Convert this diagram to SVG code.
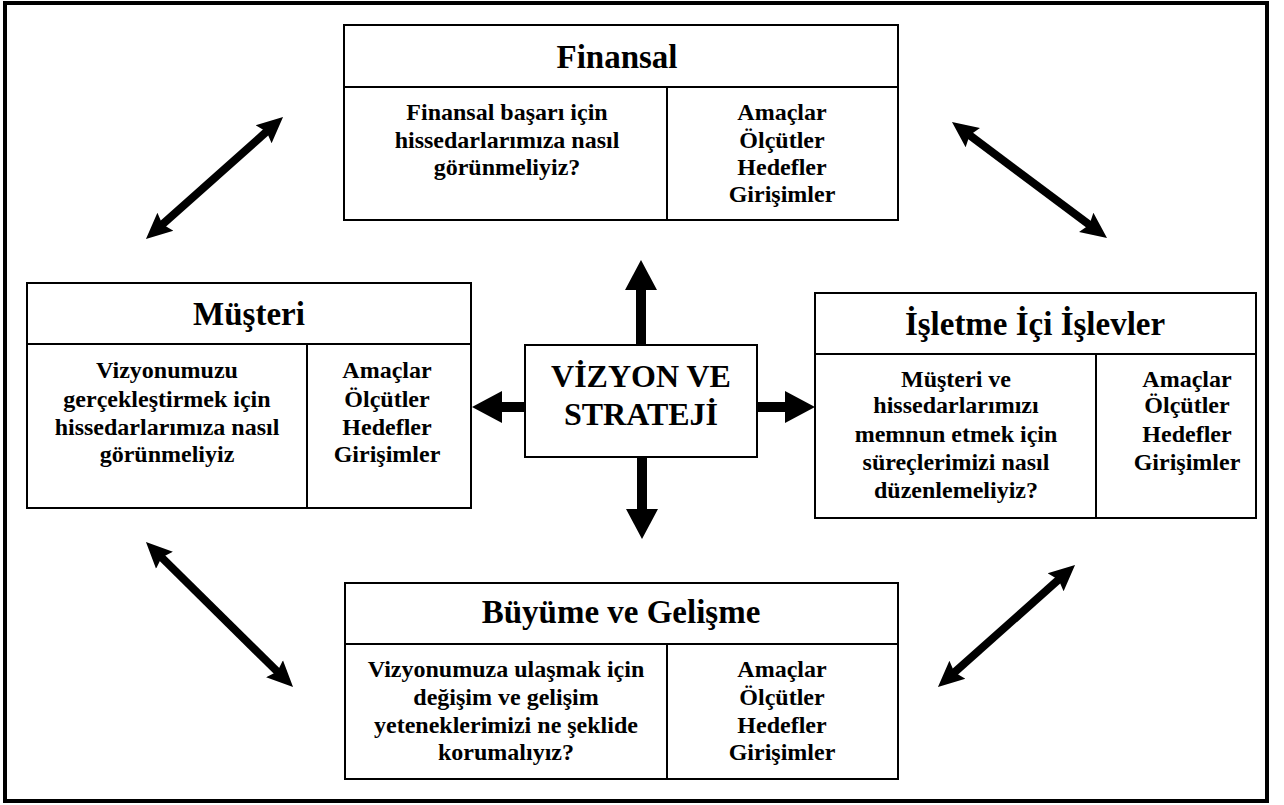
<svg xmlns="http://www.w3.org/2000/svg" width="1284" height="805" viewBox="0 0 1284 805">
  <style>
    .frame { fill: #fff; stroke: #000; stroke-width: 4; }
    .box { fill: #fff; stroke: #000; stroke-width: 2; }
    .rule { stroke: #000; stroke-width: 2; }
    text { font-family: "Liberation Serif", "Times New Roman", serif; font-weight: bold; fill: #000; text-anchor: middle; }
    .head { font-size: 33px; }
    .body { font-size: 24px; }
    .core { font-size: 32px; }
    .dbl { stroke: #000; stroke-width: 8; fill: none; marker-start: url(#tipSmall); marker-end: url(#tipSmall); }
    .out { stroke: #000; stroke-width: 10; fill: none; marker-end: url(#tipBig); }
  </style>
  <defs>
    <!-- notched head; the shaft ends 6px inside it so the notch is covered -->
    <marker id="tipSmall" markerUnits="userSpaceOnUse" viewBox="0 -15 30 30" refX="6" refY="0" markerWidth="30" markerHeight="30" orient="auto-start-reverse">
      <path d="M0,-12 L26,0 L0,12 L4,0 z" fill="#000"/>
    </marker>
    <marker id="tipBig" markerUnits="userSpaceOnUse" viewBox="0 -18 32 36" refX="0" refY="0" markerWidth="32" markerHeight="36" orient="auto">
      <path d="M0,-16 L30,0 L0,16 z" fill="#000"/>
    </marker>
  </defs>

  <!-- outer frame -->
  <rect class="frame" x="5" y="3" width="1262" height="798"/>

  <!-- connectors -->
  <g id="connectors">
    <line class="dbl" x1="160.9" y1="225.7" x2="268.1" y2="130.3"/>
    <line class="dbl" x1="968.0" y1="134.0" x2="1091.0" y2="226.0"/>
    <line class="dbl" x1="952.9" y1="673.7" x2="1060.1" y2="578.3"/>
    <line class="dbl" x1="160.2" y1="556.0" x2="278.8" y2="673.0"/>
    <line class="out" x1="641" y1="345" x2="641" y2="290"/>
    <line class="out" x1="642" y1="457" x2="642" y2="509"/>
    <line class="out" x1="525" y1="407" x2="502" y2="407"/>
    <line class="out" x1="757" y1="407" x2="785" y2="407"/>
  </g>

  <!-- Finansal -->
  <g id="finansal">
    <rect class="box" x="344" y="25" width="554" height="195"/>
    <line class="rule" x1="344" y1="87" x2="898" y2="87"/>
    <line class="rule" x1="667" y1="87" x2="667" y2="220"/>
    <text class="head" x="617" y="68">Finansal</text>
    <text class="body" x="507" y="120">Finansal başarı için</text>
    <text class="body" x="507" y="148">hissedarlarımıza nasıl</text>
    <text class="body" x="507" y="175">görünmeliyiz?</text>
    <text class="body" x="782" y="120">Amaçlar</text>
    <text class="body" x="782" y="148">Ölçütler</text>
    <text class="body" x="782" y="175">Hedefler</text>
    <text class="body" x="782" y="202">Girişimler</text>
  </g>

  <!-- Müşteri -->
  <g id="musteri">
    <rect class="box" x="27" y="283" width="444" height="225"/>
    <line class="rule" x1="27" y1="344" x2="471" y2="344"/>
    <line class="rule" x1="307" y1="344" x2="307" y2="508"/>
    <text class="head" x="249" y="325">Müşteri</text>
    <text class="body" x="167" y="378">Vizyonumuzu</text>
    <text class="body" x="167" y="407">gerçekleştirmek için</text>
    <text class="body" x="167" y="435">hissedarlarımıza nasıl</text>
    <text class="body" x="167" y="462">görünmeliyiz</text>
    <text class="body" x="387" y="378">Amaçlar</text>
    <text class="body" x="387" y="407">Ölçütler</text>
    <text class="body" x="387" y="435">Hedefler</text>
    <text class="body" x="387" y="462">Girişimler</text>
  </g>

  <!-- Vizyon ve Strateji -->
  <g id="vizyon">
    <rect class="box" x="525" y="345" width="232" height="112"/>
    <text class="core" x="641" y="387">VİZYON VE</text>
    <text class="core" x="641" y="425">STRATEJİ</text>
  </g>

  <!-- İşletme İçi İşlevler -->
  <g id="isletme">
    <rect class="box" x="815" y="293" width="441" height="225"/>
    <line class="rule" x1="815" y1="354" x2="1256" y2="354"/>
    <line class="rule" x1="1096" y1="354" x2="1096" y2="518"/>
    <text class="head" x="1035" y="335">İşletme İçi İşlevler</text>
    <text class="body" x="956" y="387">Müşteri ve</text>
    <text class="body" x="956" y="413">hissedarlarımızı</text>
    <text class="body" x="956" y="442">memnun etmek için</text>
    <text class="body" x="956" y="470">süreçlerimizi nasıl</text>
    <text class="body" x="956" y="498">düzenlemeliyiz?</text>
    <text class="body" x="1187" y="387">Amaçlar</text>
    <text class="body" x="1187" y="413">Ölçütler</text>
    <text class="body" x="1187" y="442">Hedefler</text>
    <text class="body" x="1187" y="470">Girişimler</text>
  </g>

  <!-- Büyüme ve Gelişme -->
  <g id="buyume">
    <rect class="box" x="345" y="583" width="553" height="196"/>
    <line class="rule" x1="345" y1="644" x2="898" y2="644"/>
    <line class="rule" x1="667" y1="644" x2="667" y2="779"/>
    <text class="head" x="621" y="623">Büyüme ve Gelişme</text>
    <text class="body" x="506" y="677">Vizyonumuza ulaşmak için</text>
    <text class="body" x="506" y="705">değişim ve gelişim</text>
    <text class="body" x="506" y="733">yeteneklerimizi ne şeklide</text>
    <text class="body" x="506" y="760">korumalıyız?</text>
    <text class="body" x="782" y="677">Amaçlar</text>
    <text class="body" x="782" y="705">Ölçütler</text>
    <text class="body" x="782" y="733">Hedefler</text>
    <text class="body" x="782" y="760">Girişimler</text>
  </g>
</svg>
